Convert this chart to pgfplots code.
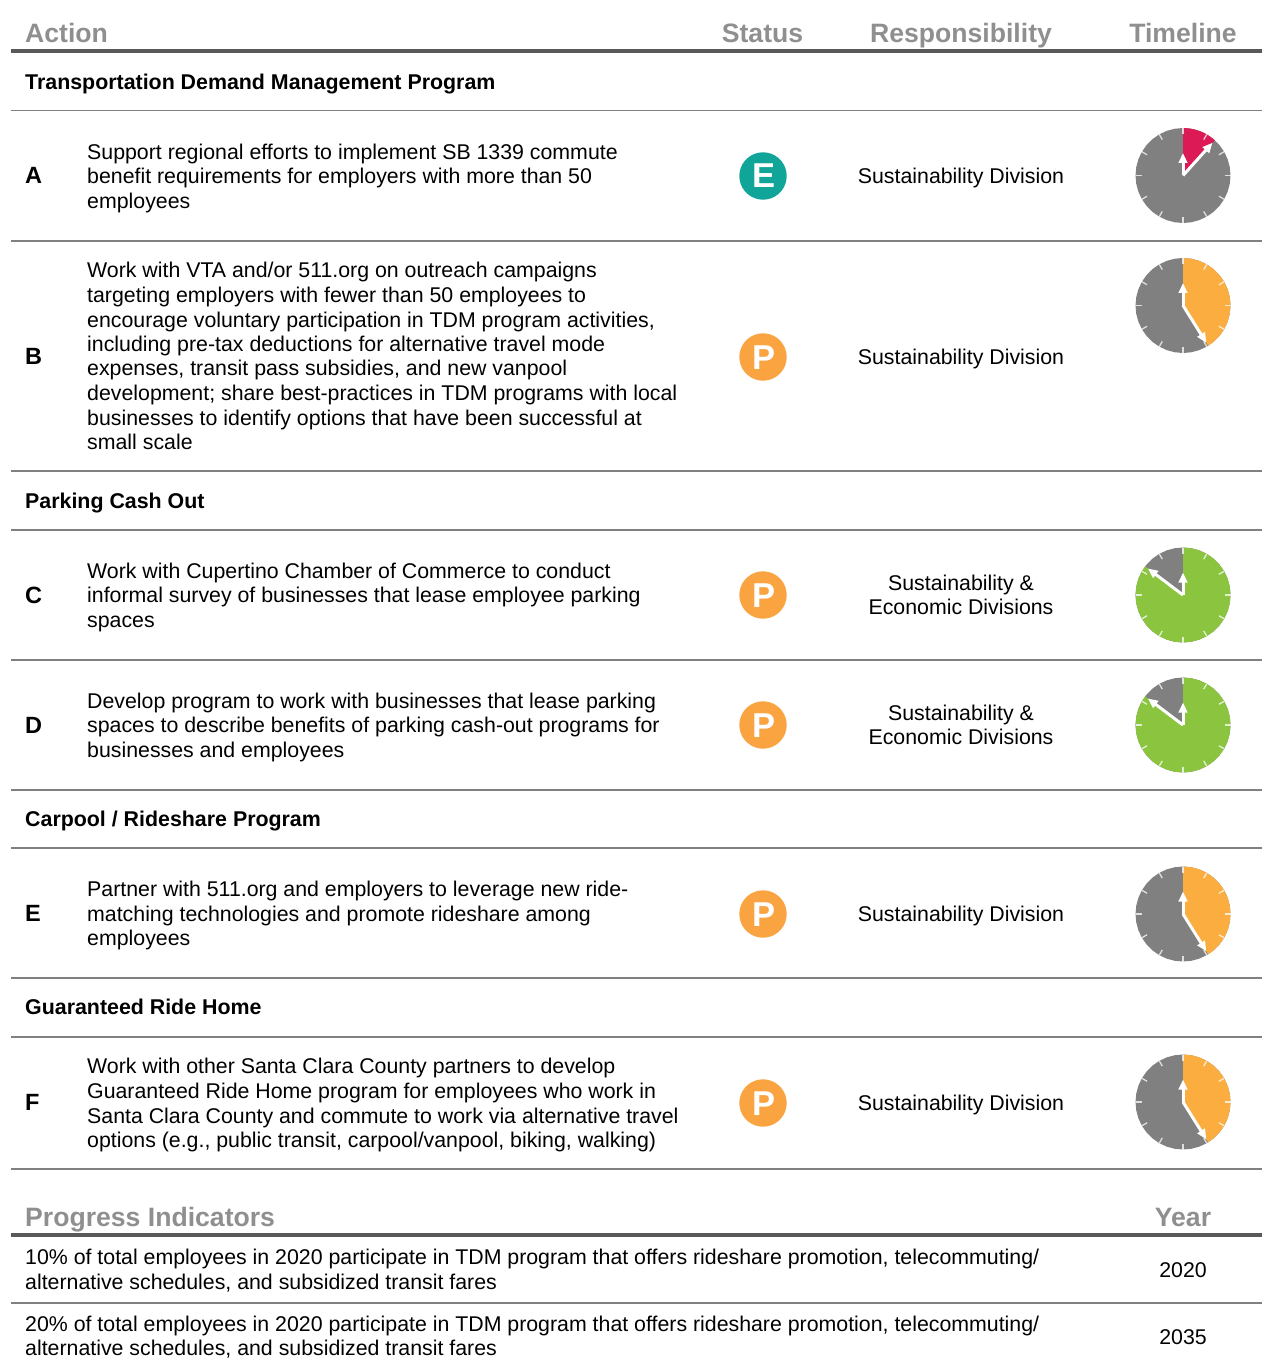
\documentclass[border=0pt]{standalone}
\usepackage{pgfplots}
\pgfplotsset{compat=1.18}
\usepackage{pgfplotstable}
\usepackage{fontspec}
\setmainfont{Liberation Sans}
\usetikzlibrary{arrows.meta}
\definecolor{hdr}{HTML}{8F8F8F}
\definecolor{rulethick}{HTML}{595959}
\definecolor{rulethin}{HTML}{808080}
\definecolor{clockgrey}{HTML}{808080}
\definecolor{cred}{HTML}{DC1A56}
\definecolor{corange}{HTML}{FBAE3F}
\definecolor{cgreen}{HTML}{8BC53F}
\definecolor{steal}{HTML}{10A598}
\definecolor{sorange}{HTML}{F9A341}
\pgfplotstableread[row sep=\\]{a r\\0 47.5\\10 47.5\\20 47.5\\30 47.5\\40 47.5\\50 47.5\\60 47.5\\70 47.5\\80 47.5\\90 47.5\\100 47.5\\110 47.5\\120 47.5\\130 47.5\\140 47.5\\150 47.5\\160 47.5\\170 47.5\\180 47.5\\190 47.5\\200 47.5\\210 47.5\\220 47.5\\230 47.5\\240 47.5\\250 47.5\\260 47.5\\270 47.5\\280 47.5\\290 47.5\\300 47.5\\310 47.5\\320 47.5\\330 47.5\\340 47.5\\350 47.5\\360 47.5\\}\discT
\pgfplotstableread[row sep=\\]{a r\\0 23.7\\10 23.7\\20 23.7\\30 23.7\\40 23.7\\50 23.7\\60 23.7\\70 23.7\\80 23.7\\90 23.7\\100 23.7\\110 23.7\\120 23.7\\130 23.7\\140 23.7\\150 23.7\\160 23.7\\170 23.7\\180 23.7\\190 23.7\\200 23.7\\210 23.7\\220 23.7\\230 23.7\\240 23.7\\250 23.7\\260 23.7\\270 23.7\\280 23.7\\290 23.7\\300 23.7\\310 23.7\\320 23.7\\330 23.7\\340 23.7\\350 23.7\\360 23.7\\}\discS
\pgfplotstableread[row sep=\\]{a r\\0 0\\0 47.5\\7 47.5\\14 47.5\\21 47.5\\28 47.5\\35 47.5\\42 47.5\\}\wedgeA
\pgfplotstableread[row sep=\\]{a r\\0 0\\0 47.5\\10 47.5\\20 47.5\\30 47.5\\40 47.5\\50 47.5\\60 47.5\\70 47.5\\80 47.5\\90 47.5\\100 47.5\\110 47.5\\120 47.5\\130 47.5\\140 47.5\\148 47.5\\}\wedgeP
\pgfplotstableread[row sep=\\]{a r\\0 0\\0 47.5\\10 47.5\\20 47.5\\30 47.5\\40 47.5\\50 47.5\\60 47.5\\70 47.5\\80 47.5\\90 47.5\\100 47.5\\110 47.5\\120 47.5\\130 47.5\\140 47.5\\150 47.5\\160 47.5\\170 47.5\\180 47.5\\190 47.5\\200 47.5\\210 47.5\\220 47.5\\230 47.5\\240 47.5\\250 47.5\\260 47.5\\270 47.5\\280 47.5\\290 47.5\\300 47.5\\307 47.5\\}\wedgeG
\newcommand\myPoly[4]{\addplot[draw=none,fill=#4] table[x expr={#1+\thisrow{r}*sin(\thisrow{a})},y expr={#2-\thisrow{r}*cos(\thisrow{a})}] {#3};}
\newcommand\myHr[3]{\addplot[white,line width=1.3bp,opacity=.75,forget plot] table[row sep=\\,x expr={#1+\thisrow{r}*sin(\thisrow{a})},y expr={#2-\thisrow{r}*cos(\thisrow{a})}] {a r\\ #3 41.5\\ #3 47.5\\};}
\newcommand\myClock[5]{%
\myPoly{#1}{#2}{\discT}{clockgrey}%
\myPoly{#1}{#2}{#3}{#4}%
\myHr{#1}{#2}{0}\myHr{#1}{#2}{30}\myHr{#1}{#2}{60}\myHr{#1}{#2}{90}\myHr{#1}{#2}{120}\myHr{#1}{#2}{150}%
\myHr{#1}{#2}{180}\myHr{#1}{#2}{210}\myHr{#1}{#2}{240}\myHr{#1}{#2}{270}\myHr{#1}{#2}{300}\myHr{#1}{#2}{330}%
\addplot[white,line width=3bp,-{Triangle[length=10bp,width=8.5bp]}] table[row sep=\\,x expr={#1+\thisrow{r}*sin(\thisrow{a})},y expr={#2-\thisrow{r}*cos(\thisrow{a})}] {a r\\ 0 0\\ 0 22.5\\};%
\addplot[white,line width=3bp,-{Triangle[length=10bp,width=8.5bp]}] table[row sep=\\,x expr={#1+\thisrow{r}*sin(\thisrow{a})},y expr={#2-\thisrow{r}*cos(\thisrow{a})}] {a r\\ #5 0\\ #5 44\\};%
}
\newcommand\rThin[1]{\addplot[rulethin,line width=1.5bp] coordinates {(11,#1)(1262,#1)};}
\newcommand\rThick[1]{\addplot[rulethick,line width=4bp] coordinates {(11,#1)(1262,#1)};}
\newcommand\tL[3]{\node[anchor=base west,inner sep=0pt,font=\bodyF] at (axis cs:#1,#2) {#3};}
\newcommand\tC[3]{\node[anchor=base,inner sep=0pt,font=\bodyF] at (axis cs:#1,#2) {#3};}
\newcommand\bL[3]{\node[anchor=base west,inner sep=0pt,font=\boldF] at (axis cs:#1,#2) {#3};}
\newcommand\lL[3]{\node[anchor=base west,inner sep=0pt,font=\letterF] at (axis cs:#1,#2) {#3};}
\newcommand\hL[3]{\node[anchor=base west,inner sep=0pt,text=hdr,font=\headF] at (axis cs:#1,#2) {#3};}
\newcommand\hC[3]{\node[anchor=base,inner sep=0pt,text=hdr,font=\headF] at (axis cs:#1,#2) {#3};}
\newcommand\sT[3]{\node[text=white,inner sep=0pt,font=\fontsize{34.5bp}{34bp}\selectfont\bfseries,anchor=base] at (axis cs:#1,#2) {#3};}
\newcommand\bodyF{\fontsize{21.32bp}{24.6bp}\selectfont}
\newcommand\boldF{\fontsize{21.37bp}{24.6bp}\selectfont\bfseries}
\newcommand\letterF{\fontsize{23.5bp}{24.6bp}\selectfont\bfseries}
\newcommand\headF{\fontsize{26.6bp}{30bp}\selectfont\bfseries}
\begin{document}
\begin{tikzpicture}
\begin{axis}[scale only axis,width=1262bp,height=1364bp,xmin=0,xmax=1262,ymin=0,ymax=1364,y dir=reverse,hide axis,clip=false]
\addplot[draw=none] coordinates {(0,0)(1262,1364)};
\rThick{51}\rThick{1235}
\rThin{110.5}\rThin{241}\rThin{471}\rThin{530}\rThin{660}\rThin{790}\rThin{848}\rThin{978}\rThin{1037}\rThin{1169}\rThin{1303}
\myClock{1183}{175.5}{\wedgeA}{cred}{42}
\myClock{1183}{305.5}{\wedgeP}{corange}{148}
\myClock{1183}{595}{\wedgeG}{cgreen}{307}
\myClock{1183}{725}{\wedgeG}{cgreen}{307}
\myClock{1183}{914}{\wedgeP}{corange}{148}
\myClock{1183}{1102}{\wedgeP}{corange}{148}
\myPoly{763}{176}{\discS}{steal}
\myPoly{763}{357}{\discS}{sorange}
\myPoly{763}{595}{\discS}{sorange}
\myPoly{763}{725}{\discS}{sorange}
\myPoly{763}{914}{\discS}{sorange}
\myPoly{763}{1103}{\discS}{sorange}
\sT{763.5}{188}{E}\sT{763.5}{369.5}{P}\sT{763.5}{607.5}{P}\sT{763.5}{737.5}{P}\sT{763.5}{926.5}{P}\sT{763.5}{1115.5}{P}
\hL{25}{43}{Action}\hC{762.5}{43}{Status}\hC{961}{43}{Responsibility}\hC{1183}{43}{Timeline}
\hL{25}{1226.5}{Progress Indicators}\hC{1183}{1226.5}{Year}
\bL{25}{89.5}{Transportation Demand Management Program}
\bL{25}{508.5}{Parking Cash Out}
\bL{25}{826.5}{Carpool / Rideshare Program}
\bL{25}{1014.5}{Guaranteed Ride Home}
\lL{25}{184}{A}\lL{25}{364}{B}\lL{25}{603}{C}\lL{25}{733}{D}\lL{25}{921.5}{E}\lL{25}{1110.5}{F}
\tL{87}{159.5}{Support regional efforts to implement SB 1339 commute}
\tL{87}{183.5}{benefit requirements for employers with more than 50}
\tL{87}{208.5}{employees}
\tL{87}{277.5}{Work with VTA and/or 511.org on outreach campaigns}
\tL{87}{302.5}{targeting employers with fewer than 50 employees to}
\tL{87}{327.5}{encourage voluntary participation in TDM program activities,}
\tL{87}{351}{including pre-tax deductions for alternative travel mode}
\tL{87}{375.5}{expenses, transit pass subsidies, and new vanpool}
\tL{87}{400}{development; share best-practices in TDM programs with local}
\tL{87}{425}{businesses to identify options that have been successful at}
\tL{87}{449}{small scale}
\tL{87}{578}{Work with Cupertino Chamber of Commerce to conduct}
\tL{87}{602.5}{informal survey of businesses that lease employee parking}
\tL{87}{627}{spaces}
\tL{87}{708}{Develop program to work with businesses that lease parking}
\tL{87}{732.5}{spaces to describe benefits of parking cash-out programs for}
\tL{87}{757}{businesses and employees}
\tL{87}{896}{Partner with 511.org and employers to leverage new ride-}
\tL{87}{921}{matching technologies and promote rideshare among}
\tL{87}{945}{employees}
\tL{87}{1073}{Work with other Santa Clara County partners to develop}
\tL{87}{1098}{Guaranteed Ride Home program for employees who work in}
\tL{87}{1123}{Santa Clara County and commute to work via alternative travel}
\tL{87}{1147}{options (e.g., public transit, carpool/vanpool, biking, walking)}
\tC{961}{183.5}{Sustainability Division}
\tC{961}{364}{Sustainability Division}
\tC{961}{590}{Sustainability \&}
\tC{961}{614}{Economic Divisions}
\tC{961}{720}{Sustainability \&}
\tC{961}{744}{Economic Divisions}
\tC{961}{921}{Sustainability Division}
\tC{961}{1110}{Sustainability Division}
\tL{25}{1264}{10\% of total employees in 2020 participate in TDM program that offers rideshare promotion, telecommuting/}
\tL{25}{1289}{alternative schedules, and subsidized transit fares}
\tL{25}{1331}{20\% of total employees in 2020 participate in TDM program that offers rideshare promotion, telecommuting/}
\tL{25}{1355}{alternative schedules, and subsidized transit fares}
\tC{1183}{1277}{2020}
\tC{1183}{1344}{2035}
\end{axis}
\end{tikzpicture}
\end{document}
